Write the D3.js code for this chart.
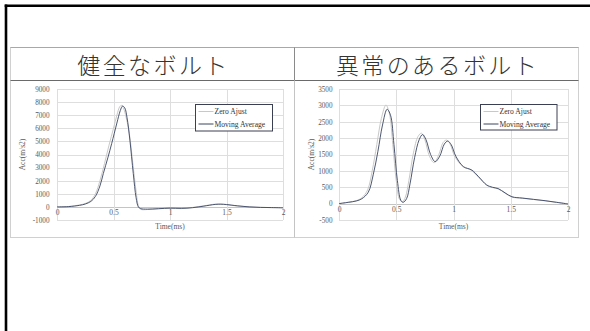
<!DOCTYPE html>
<html>
<head>
<meta charset="utf-8">
<script src="https://cdn.jsdelivr.net/npm/d3@7"></script>
<style>
  html, body { margin: 0; padding: 0; background: #fff; }
  svg { display: block; }
</style>
</head>
<body>
<svg id="chart" width="590" height="331"></svg>
<script>
// Panel titles
const panelTitles = ["健全なボルト", "異常のあるボルト"];
const seriesNames = ["Zero Ajust", "Moving Average"];
const xTicks = [0, 0.5, 1, 1.5, 2];
const healthyYTicks = [-1000, 0, 1000, 2000, 3000, 4000, 5000, 6000, 7000, 8000, 9000];
const faultyYTicks = [-500, 0, 500, 1000, 1500, 2000, 2500, 3000, 3500];

// Healthy bolt: [time ms, acceleration m/s2]
const healthyZero = [
  [0, 0], [0.1, 30], [0.2, 150], [0.25, 260], [0.3, 500], [0.34, 1000], [0.38, 2000],
  [0.42, 3300], [0.46, 4700], [0.5, 6000], [0.53, 7000], [0.555, 7650], [0.57, 7750],
  [0.59, 7500], [0.61, 6900], [0.64, 5600], [0.67, 3400], [0.7, 1200], [0.72, 100],
  [0.74, -180], [0.8, -200], [0.9, -120], [1.0, -100], [1.1, -130], [1.2, -40],
  [1.3, 80], [1.4, 210], [1.45, 200], [1.5, 170], [1.6, 60], [1.7, 10], [1.8, -30],
  [1.9, -60], [2.0, -60]
];
const healthyAvg = [
  [0, 0], [0.1, 20], [0.2, 120], [0.25, 220], [0.3, 420], [0.34, 800], [0.38, 1600],
  [0.41, 2550], [0.45, 3750], [0.484, 4840], [0.53, 6400], [0.56, 7350], [0.58, 7700],
  [0.6, 7550], [0.62, 6800], [0.645, 5100], [0.675, 2550], [0.7, 700], [0.72, 0],
  [0.74, -130], [0.8, -170], [0.9, -140], [1.0, -90], [1.1, -110], [1.2, -60],
  [1.3, 60], [1.4, 190], [1.45, 210], [1.5, 180], [1.6, 80], [1.7, 0], [1.8, -40],
  [1.9, -50], [2.0, -70]
];

// Faulty bolt: [time ms, acceleration m/s2]
const faultyZero = [
  [0, 0], [0.08, 40], [0.15, 90], [0.2, 180], [0.25, 420], [0.29, 1000], [0.33, 1800],
  [0.37, 2600], [0.41, 3010], [0.44, 2750], [0.47, 1800], [0.5, 700], [0.53, 120],
  [0.555, 60], [0.58, 200], [0.61, 700], [0.65, 1550], [0.69, 2050], [0.72, 2150],
  [0.75, 1950], [0.79, 1450], [0.83, 1250], [0.87, 1480], [0.91, 1870], [0.94, 1940],
  [0.97, 1820], [1.01, 1450], [1.08, 1140], [1.15, 1030], [1.22, 800], [1.29, 560],
  [1.34, 490], [1.39, 450], [1.45, 320], [1.51, 200], [1.6, 165], [1.7, 125],
  [1.8, 85], [1.9, 40], [2.0, -10]
];
const faultyAvg = [
  [0, 0], [0.08, 40], [0.15, 80], [0.2, 150], [0.256, 350], [0.3, 900], [0.34, 1600],
  [0.38, 2400], [0.42, 2880], [0.45, 2700], [0.48, 1800], [0.51, 700], [0.54, 100],
  [0.56, 40], [0.59, 150], [0.62, 600], [0.66, 1400], [0.7, 1950], [0.73, 2110],
  [0.76, 1950], [0.8, 1500], [0.84, 1280], [0.88, 1450], [0.92, 1820], [0.95, 1910],
  [0.98, 1800], [1.02, 1450], [1.086, 1130], [1.16, 1025], [1.22, 820], [1.29, 570],
  [1.34, 500], [1.39, 460], [1.45, 330], [1.51, 210], [1.6, 170], [1.7, 130],
  [1.8, 90], [1.9, 40], [2.0, -10]
];

const svg = d3.select("#chart");
const serif = "'Liberation Serif', 'DejaVu Serif', serif";
const zeroColor = "#c8c8c8";
const avgColor = "#3a4562";

// Outer frame (top and left edges)
svg.append("line").attr("x1", 4.7).attr("x2", 590).attr("y1", 5.7).attr("y2", 5.7)
  .attr("stroke", "#000").attr("stroke-width", 2.4);
svg.append("line").attr("x1", 6).attr("x2", 6).attr("y1", 4.5).attr("y2", 331)
  .attr("stroke", "#000").attr("stroke-width", 2.6);

// Table grid
const tbl = { x0: 10.5, x1: 578.5, y0: 47.5, yMid: 80.5, y1: 237.5, xDiv: 294.5 };
svg.append("rect").attr("x", tbl.x0).attr("y", tbl.y0)
  .attr("width", tbl.x1 - tbl.x0).attr("height", tbl.y1 - tbl.y0)
  .attr("fill", "none").attr("stroke", "#d0d0d0");
svg.append("line").attr("x1", tbl.x0).attr("x2", tbl.x1).attr("y1", tbl.y0).attr("y2", tbl.y0)
  .attr("stroke", "#a8a8a8");
svg.append("line").attr("x1", tbl.x0).attr("x2", tbl.x1).attr("y1", tbl.yMid).attr("y2", tbl.yMid)
  .attr("stroke", "#6a6a6a");
svg.append("line").attr("x1", tbl.xDiv).attr("x2", tbl.xDiv).attr("y1", tbl.y0).attr("y2", tbl.yMid)
  .attr("stroke", "#8a8a8a");
svg.append("line").attr("x1", tbl.xDiv).attr("x2", tbl.xDiv).attr("y1", tbl.yMid).attr("y2", tbl.y1)
  .attr("stroke", "#c4c4c4");

const panels = [
  { title: panelTitles[0], cx: (tbl.x0 + tbl.xDiv) / 2, xr: [57, 283], yd: [-1000, 9000],
    yTicks: healthyYTicks, zero: healthyZero, avg: healthyAvg, labelX: 49.5, titleX: 22,
    legend: { x: 195.5, y: 104.5, w: 77, h: 26.5 } },
  { title: panelTitles[1], cx: (tbl.xDiv + tbl.x1) / 2, xr: [339, 568], yd: [-500, 3500],
    yTicks: faultyYTicks, zero: faultyZero, avg: faultyAvg, labelX: 332.5, titleX: 311,
    legend: { x: 480.5, y: 104.5, w: 76.5, h: 25.5 } }
];

// Plain hyphen for negatives, as printed on the axes
const fmtTick = d => (d < 0 ? "-" : "") + Math.abs(d);

panels.forEach(p => {
  // Title
  svg.append("text").attr("x", p.cx + 1).attr("y", 74)
    .attr("text-anchor", "middle")
    .attr("font-family", "'Noto Sans CJK JP', sans-serif")
    .attr("font-weight", 200)
    .attr("font-size", 23).attr("letter-spacing", 2.4)
    .attr("fill", "#333").text(p.title);

  const x = d3.scaleLinear().domain([0, 2]).range(p.xr);
  const y = d3.scaleLinear().domain(p.yd).range([220, 89]);
  const g = svg.append("g");

  // Gridlines
  g.selectAll("line.h").data(p.yTicks).join("line")
    .attr("x1", p.xr[0]).attr("x2", p.xr[1])
    .attr("y1", d => Math.round(y(d)) + 0.5).attr("y2", d => Math.round(y(d)) + 0.5)
    .attr("stroke", d => d === 0 ? "#c4c4c4" : "#dedede").attr("stroke-width", 1);
  g.selectAll("line.v").data(xTicks).join("line")
    .attr("x1", d => Math.round(x(d)) + 0.5).attr("x2", d => Math.round(x(d)) + 0.5)
    .attr("y1", 89).attr("y2", 220)
    .attr("stroke", "#dedede").attr("stroke-width", 1);

  // Y tick labels
  const yAxis = d3.axisLeft(y).tickValues(p.yTicks).tickSize(0).tickPadding(0)
    .tickFormat(fmtTick);
  const ya = g.append("g").attr("transform", `translate(${p.labelX},0)`).call(yAxis);
  ya.select(".domain").remove();
  ya.selectAll("text").attr("font-family", serif).attr("font-size", 7.2).attr("fill", "#595959");

  // X tick labels, hung below the zero line
  const xAxis = d3.axisBottom(x).tickValues(xTicks).tickSize(0).tickPadding(0)
    .tickFormat(d => String(d));
  const xa = g.append("g").attr("transform", `translate(0,${y(0) + 3})`).call(xAxis);
  xa.select(".domain").remove();
  xa.selectAll("text").attr("font-family", serif).attr("font-size", 7.5).attr("fill", "#595959");

  // Axis titles
  g.append("text").attr("x", (p.xr[0] + p.xr[1]) / 2).attr("y", 228.5)
    .attr("text-anchor", "middle").attr("font-family", serif).attr("font-size", 7.5)
    .attr("fill", "#595959").text("Time(ms)");
  g.append("text")
    .attr("transform", `translate(${p.titleX + 2.5},154.5) rotate(-90)`)
    .attr("text-anchor", "middle").attr("font-family", serif).attr("font-size", 7.5)
    .attr("fill", "#595959").text("Acc(m/s2)");

  // Series
  const line = d3.line().x(d => x(d[0])).y(d => y(d[1])).curve(d3.curveCatmullRom.alpha(0.5));
  g.append("path").datum(p.zero).attr("d", line)
    .attr("fill", "none").attr("stroke", zeroColor).attr("stroke-width", 1);
  g.append("path").datum(p.avg).attr("d", line)
    .attr("fill", "none").attr("stroke", avgColor).attr("stroke-width", 0.9);

  // Legend
  const L = p.legend;
  const lg = g.append("g");
  lg.append("rect").attr("x", L.x).attr("y", L.y).attr("width", L.w).attr("height", L.h)
    .attr("fill", "#fff").attr("stroke", "#3a3f52").attr("stroke-width", 1);
  [[seriesNames[0], zeroColor, L.y + 7], [seriesNames[1], avgColor, L.y + 19.5]].forEach(([name, c, ry]) => {
    lg.append("line").attr("x1", L.x + 3).attr("x2", L.x + 18)
      .attr("y1", ry).attr("y2", ry).attr("stroke", c).attr("stroke-width", 1);
    lg.append("text").attr("x", L.x + 19).attr("y", ry).attr("dy", "0.33em")
      .attr("font-family", serif).attr("font-size", 7.6).attr("fill", "#333").text(name);
  });
});
</script>
</body>
</html>
